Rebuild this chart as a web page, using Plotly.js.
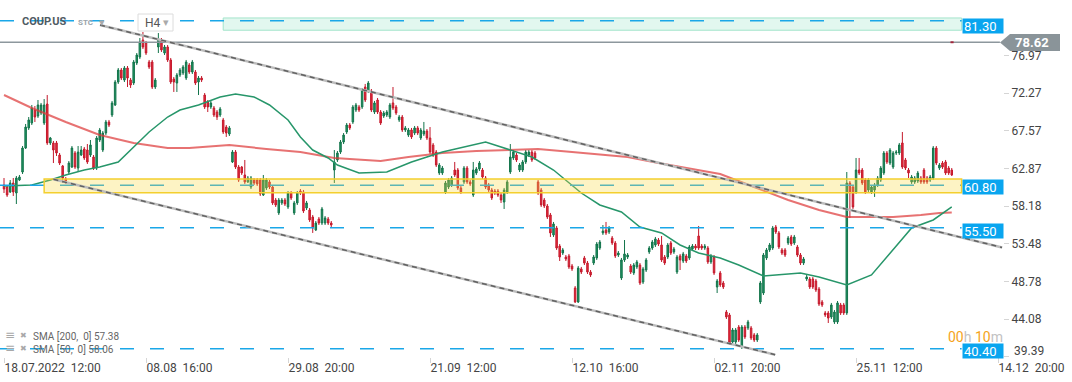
<!DOCTYPE html>
<html>
<head>
<meta charset="utf-8">
<script src="https://cdn.plot.ly/plotly-3.0.1.min.js"></script>
<style>
html,body{margin:0;padding:0;background:#fff;}
#chart{width:1072px;height:382px;}
</style>
</head>
<body>
<div id="chart"></div>
<script>
// ---------- DATA (H4 candles, COUP.US) ----------
const open = [
60.82,60.57,59.95,61.07,59.82,61.44,62.44,65.43,67.93,68.55,
70.17,69.42,69.80,68.55,70.92,66.06,66.06,66.06,64.56,63.19,
61.57,62.44,63.06,64.81,62.94,64.56,65.31,65.18,64.56,64.31,
62.94,66.43,65.18,67.30,68.68,69.55,70.80,73.66,75.16,73.91,
75.41,73.91,73.54,76.03,76.78,78.90,78.53,76.16,76.16,73.04,
78.03,78.90,77.28,78.03,76.41,74.04,73.54,74.54,74.79,74.16,
75.78,74.91,74.91,73.66,74.16,72.04,71.17,70.55,70.42,69.92,
69.55,68.93,68.05,67.18,63.69,64.93,63.06,63.06,62.07,61.20,
60.57,61.44,61.44,61.44,59.57,60.45,61.20,60.57,58.95,57.33,
58.58,58.95,58.08,59.82,57.33,58.58,60.07,59.95,57.95,57.70,
56.83,55.21,56.58,56.08,56.08,56.58,56.08,62.69,63.94,64.93,
66.18,67.43,68.30,68.68,70.17,70.55,70.55,73.04,72.54,72.54,
69.92,71.42,69.92,69.42,69.55,69.30,71.05,70.55,68.93,69.30,
67.68,67.05,67.68,67.30,67.93,66.68,67.18,67.55,66.68,65.81,
64.93,62.32,62.32,59.95,60.57,60.82,62.69,62.69,60.45,61.20,
62.94,61.20,59.57,62.32,62.82,62.69,61.69,60.82,60.20,60.07,
60.07,59.57,58.70,59.95,62.44,64.19,64.56,62.69,62.69,63.69,
64.56,64.93,64.81,61.20,60.20,58.95,58.20,57.08,54.59,55.46,
53.21,52.34,51.84,51.97,50.72,47.98,46.23,50.35,51.72,51.09,
49.97,51.09,51.72,52.96,54.84,55.21,54.96,54.21,53.59,52.09,
49.22,51.47,51.84,50.72,49.85,50.60,50.84,48.72,50.22,52.47,
52.96,53.34,53.96,53.34,51.84,51.84,53.59,52.47,49.97,51.97,
51.34,51.97,51.72,52.84,53.21,54.46,53.21,52.96,52.96,51.22,
51.84,48.10,49.85,48.60,44.98,44.61,41.24,41.24,43.11,40.62,
43.11,42.99,42.99,42.12,41.49,46.23,47.35,51.72,52.72,52.96,
55.58,54.84,52.72,52.72,53.59,54.34,53.59,53.09,52.09,51.09,
49.10,49.10,49.10,48.85,47.85,46.23,44.86,44.86,44.36,43.74,
43.74,45.86,45.86,44.86,61.07,60.57,59.95,62.69,62.69,61.44,
60.20,59.95,60.20,60.82,61.44,62.32,64.81,63.56,63.06,64.81,
64.81,66.06,63.94,62.69,61.20,61.20,61.32,61.69,62.69,61.69,
61.44,61.69,65.43,62.94,63.56,63.69,62.94,62.69];
const high = [
61.69,60.82,61.44,61.69,61.94,62.07,65.68,68.43,69.30,70.80,
70.67,71.42,71.05,71.54,72.04,66.81,66.31,66.31,64.81,63.31,
61.82,63.81,65.68,65.06,65.68,65.68,65.56,65.93,66.43,64.56,
66.93,67.93,67.55,68.93,68.93,71.30,73.91,75.41,75.41,75.66,
75.66,74.16,76.41,77.28,79.15,79.90,78.78,76.41,76.41,74.16,
79.77,79.15,78.28,78.28,76.66,74.29,74.79,75.41,75.78,76.41,
76.03,76.41,75.16,74.41,74.41,72.29,71.42,71.30,70.67,70.17,
70.55,69.18,68.30,68.18,65.18,65.18,63.31,63.19,63.94,61.94,
61.94,61.69,61.69,61.69,62.07,61.69,61.44,60.82,59.20,59.20,
59.20,59.20,60.07,60.07,58.83,60.07,60.32,60.20,58.83,57.95,
57.08,56.33,56.83,58.08,56.95,56.83,56.33,65.18,65.06,66.43,
67.30,68.55,68.55,70.80,71.05,70.80,72.92,73.42,73.79,72.79,
71.30,71.67,70.17,70.05,70.17,71.05,73.04,70.80,69.55,69.55,
68.18,67.93,67.93,68.18,68.18,67.93,68.68,67.80,68.05,66.06,
65.18,63.56,63.19,61.32,61.69,61.94,63.69,62.94,60.70,63.19,
63.19,61.44,63.69,63.06,63.81,62.94,61.94,61.07,60.45,60.32,
60.32,59.82,60.45,61.44,65.93,65.18,64.81,63.56,63.94,65.18,
65.18,65.18,65.06,61.44,60.45,59.20,58.45,57.33,56.21,55.71,
53.46,52.96,52.09,52.22,50.97,48.22,50.72,50.60,51.97,51.34,
50.22,52.09,53.71,53.96,55.83,56.21,55.71,54.46,53.84,52.59,
51.72,53.96,52.34,50.97,51.09,51.47,51.09,50.60,51.72,53.21,
53.96,54.34,54.21,54.46,52.09,53.59,53.84,53.09,52.09,52.22,
52.47,52.22,53.34,53.46,53.46,55.71,53.46,53.46,53.21,52.22,
52.09,49.10,50.10,48.85,45.23,44.86,42.99,42.99,43.36,43.36,
43.36,43.99,43.24,42.36,42.36,48.85,52.34,52.96,53.59,55.71,
55.83,55.08,52.96,52.96,54.46,54.59,54.59,53.34,52.34,51.84,
49.60,49.35,49.35,49.10,48.10,46.48,45.11,45.11,46.11,45.23,
46.35,46.11,46.11,62.44,61.32,60.82,64.19,64.19,62.94,61.69,
61.69,60.82,61.07,61.94,63.19,65.06,65.06,65.43,65.06,65.18,
66.06,67.43,64.19,62.94,62.07,61.94,62.57,61.94,62.94,61.94,
62.07,65.68,65.68,63.56,63.81,63.94,63.19,62.94];
const low = [
59.82,59.33,59.82,59.45,58.45,61.32,62.19,65.31,67.68,68.30,
68.68,69.18,69.55,68.30,65.81,65.81,63.56,64.44,63.31,61.07,
60.95,62.19,62.94,62.82,62.44,64.44,63.94,63.44,64.31,62.69,
62.69,66.18,64.93,67.05,68.05,69.30,70.67,73.42,73.91,73.66,
73.04,72.92,73.29,75.78,76.53,77.78,77.03,75.29,72.79,72.79,
77.28,77.41,77.03,76.16,73.42,72.42,72.42,74.29,74.54,73.91,
74.66,74.66,73.29,72.04,73.66,70.30,69.92,70.30,69.30,68.93,
69.30,67.18,66.81,66.93,63.56,62.82,61.20,62.07,60.95,61.07,
60.32,60.82,60.70,59.45,59.45,60.20,60.32,58.33,58.08,57.08,
58.33,58.20,57.83,58.95,57.08,58.33,59.57,57.33,57.70,56.21,
54.84,55.08,55.83,55.83,55.83,55.83,55.46,61.07,63.69,64.69,
65.93,67.18,67.68,68.43,69.92,69.92,70.30,71.17,72.29,69.92,
69.67,69.67,68.30,69.18,69.30,69.05,70.17,69.55,68.68,67.43,
67.43,66.81,66.56,67.05,67.05,66.43,66.93,66.43,64.69,64.31,
63.06,62.07,62.07,59.70,60.32,60.57,61.82,60.20,59.70,60.95,
60.95,60.70,59.33,62.07,62.57,61.57,60.32,59.95,58.95,59.57,
59.33,58.58,57.83,59.70,62.19,63.94,63.69,62.44,62.44,63.44,
64.31,63.69,63.94,59.57,58.08,57.95,56.58,54.34,54.34,52.72,
51.34,52.09,51.34,50.35,50.10,46.11,46.11,49.72,50.84,49.72,
49.35,50.84,51.47,52.72,54.59,54.59,54.71,53.34,51.72,51.84,
48.97,51.22,51.59,49.72,49.60,50.35,48.35,48.47,49.97,52.22,
52.72,53.09,53.21,51.22,50.84,51.59,52.09,52.22,49.72,50.22,
51.09,51.09,51.47,52.59,52.72,52.72,52.72,52.72,50.97,50.97,
49.60,47.35,48.10,47.85,44.11,40.87,40.99,40.99,41.24,40.37,
41.62,42.74,41.49,41.24,41.24,45.98,47.10,51.47,52.47,52.72,
54.71,52.84,52.09,51.84,53.34,53.21,53.34,51.84,50.84,50.84,
48.85,47.85,47.85,47.48,45.73,45.61,44.36,43.61,44.11,43.49,
43.49,44.61,44.61,44.61,56.71,57.83,59.70,62.07,60.82,59.70,
59.95,59.70,59.33,60.57,61.20,62.07,63.44,63.31,62.82,64.56,
64.56,62.82,62.69,61.69,60.95,60.95,61.07,60.95,60.95,60.95,
61.20,61.44,63.31,62.69,62.82,62.07,62.07,61.94];
const close = [
60.32,59.57,61.07,59.95,61.69,61.82,65.43,68.05,68.93,70.42,
69.30,70.80,70.80,70.80,66.06,66.68,65.18,64.81,63.56,61.69,
61.32,63.56,65.43,63.06,64.93,65.18,64.19,63.69,65.81,62.94,
66.68,67.68,67.30,68.68,68.30,71.05,73.66,75.16,74.16,75.41,
74.16,73.29,76.16,77.03,78.65,78.03,77.28,75.54,73.04,73.91,
78.90,77.66,78.03,76.41,73.66,73.66,74.54,75.16,75.54,76.16,
74.91,76.16,73.54,74.16,73.91,70.55,70.55,71.05,69.55,69.30,
70.30,67.43,67.30,67.93,64.93,63.06,61.44,62.32,61.20,61.69,
61.69,61.07,60.95,59.70,61.44,61.44,60.57,58.58,58.33,58.95,
58.95,58.45,59.82,59.20,58.58,59.82,59.82,57.58,58.58,56.46,
55.46,56.08,56.08,57.83,56.71,56.08,55.83,63.69,64.81,66.18,
67.05,68.30,67.93,70.55,70.80,70.17,72.67,71.42,73.54,70.17,
71.05,69.92,68.55,69.80,69.92,70.80,70.42,69.80,69.30,67.68,
67.93,67.68,66.81,67.93,67.30,67.68,67.55,66.68,64.93,64.56,
63.31,63.31,62.94,61.07,61.44,61.69,62.07,60.45,59.95,62.94,
61.20,60.95,62.69,62.82,63.56,61.82,60.57,60.20,59.20,59.82,
59.57,58.95,60.20,61.20,64.31,64.93,63.94,63.31,63.69,64.93,
64.93,63.94,64.19,59.82,58.33,58.20,56.83,54.84,55.96,52.96,
51.84,52.72,51.59,50.60,50.35,46.23,50.47,49.97,51.09,49.97,
49.60,51.84,53.46,53.71,55.08,54.84,55.46,53.59,51.97,52.34,
51.47,52.22,52.09,49.97,50.84,51.22,48.60,50.35,51.47,52.96,
53.71,54.09,53.46,51.47,51.09,53.34,52.34,52.84,51.84,51.47,
52.22,51.34,53.09,53.21,52.96,52.96,52.96,53.21,51.22,51.97,
49.85,48.85,48.35,48.10,44.36,41.12,42.74,42.74,41.49,43.11,
41.87,43.74,41.74,41.49,42.12,48.60,52.09,52.72,53.34,55.46,
54.96,53.09,52.34,52.09,54.21,53.46,54.34,52.09,51.09,51.59,
49.35,48.10,48.10,47.73,45.98,45.86,44.61,44.23,45.86,44.98,
46.11,44.86,44.86,61.07,59.82,58.08,62.69,62.32,61.07,59.95,
61.44,60.57,60.82,61.69,62.94,64.81,63.69,65.18,64.81,64.93,
65.81,63.06,62.94,62.32,61.82,61.69,62.32,61.20,61.20,61.20,
61.82,65.43,63.56,63.31,63.06,62.32,62.32,62.07];

// SMA 200 (bar index, value)
const sma200Bar = [0,9,20,31,42,53,60,73,85,96,107,115,122,131,142,153,164,173,184,202,212,223,232,243,254,264,273,280,288,297,303,307];
const sma200 = [72.04,70.42,68.68,67.05,66.06,65.43,65.43,65.81,65.31,64.93,64.19,63.94,63.81,64.31,64.81,65.06,65.18,65.31,64.93,64.31,63.56,62.82,62.19,60.57,58.95,57.70,56.83,56.83,56.83,57.08,57.33,57.38];
// SMA 50
const sma50Bar = [0,9,15,20,26,31,37,42,47,53,57,63,70,75,81,86,92,96,100,105,108,115,124,132,142,156,162,171,178,187,193,200,206,213,219,225,232,238,246,258,264,273,281,288,294,301,307];
const sma50 = [60.70,60.82,61.44,62.07,62.69,63.06,63.69,65.56,67.43,69.30,70.17,70.80,71.79,72.17,71.79,70.80,68.93,66.81,65.18,64.19,63.31,62.32,62.44,63.69,64.93,66.18,65.43,64.31,62.69,59.82,58.33,57.45,55.58,54.84,53.34,52.34,51.72,50.84,49.47,49.85,49.35,48.35,49.60,52.72,55.46,56.46,58.08];

// Axis ticks
const xTickBars = [0,46,92,138,184,230,276,322];
const xTickLabels = ["18.07.2022\u00a0\u00a012:00","08.08\u00a0\u00a016:00","29.08\u00a0\u00a020:00","21.09\u00a0\u00a012:00","12.10\u00a0\u00a016:00","02.11\u00a0\u00a020:00","25.11\u00a0\u00a012:00","14.12\u00a0\u00a020:00"];
const yTicks = [39.39,44.08,48.78,53.48,58.18,62.87,67.57,72.27,76.97];

// Levels / zones / trendlines
const levels = [81.30, 60.80, 55.50, 40.40];
const levelBoxTop = [81.65, 61.57, 56.08, 41.12];
const lastPrice = 78.62;
const greenZone = {x0: 71, x1: 310.2, y0: 80.12, y1: 81.65};
const yellowZone = {x0: 13, x1: 310.2, y0: 59.85, y1: 61.57};
const upperTrend = {x0: 31.1, y0: 80.77, x1: 323.3, y1: 53.03};
const lowerTrend = {x0: 16.0, y0: 61.53, x1: 249.8, y1: 39.66};
const smaLast = {s200: 57.38, s50: 58.06};

// ---------- CHART ----------
const bars = open.map((_, i) => i);
const XL = -1.3, XR = 323.6;

const traces = [
  {
    type: 'candlestick', x: bars, open: open, high: high, low: low, close: close,
    increasing: {line: {color: '#13744b', width: 1}, fillcolor: '#1f9463'},
    decreasing: {line: {color: '#c41a2c', width: 1}, fillcolor: '#e52a3c'},
    whiskerwidth: 0, hoverinfo: 'skip'
  },
  {type: 'scatter', mode: 'lines', x: sma200Bar, y: sma200, line: {color: 'rgba(222,60,60,0.72)', width: 2}, hoverinfo: 'skip'},
  {type: 'scatter', mode: 'lines', x: sma50Bar, y: sma50, line: {color: '#27966a', width: 1.5}, hoverinfo: 'skip'}
];

const PW = 1003, PH = 357;
const px = v => v / PW;
const py = v => 1 - v / PH;

const shapes = [];
shapes.push({type: 'rect', xref: 'x', yref: 'y', x0: greenZone.x0, x1: greenZone.x1, y0: greenZone.y0, y1: greenZone.y1,
  fillcolor: '#e2f7ef', line: {color: '#a3e4cb', width: 1}, layer: 'below'});
levels.forEach(v => shapes.push({type: 'line', xref: 'x', yref: 'y', x0: XL, x1: 310.2, y0: v, y1: v,
  line: {color: '#1aa7e8', width: 1.5, dash: '14px,16px'}, layer: 'above'}));
shapes.push({type: 'rect', xref: 'x', yref: 'y', x0: yellowZone.x0, x1: yellowZone.x1, y0: yellowZone.y0, y1: yellowZone.y1,
  fillcolor: 'rgba(248,214,60,0.30)', line: {color: '#f4cf2e', width: 1.5}, layer: 'above'});
shapes.push({type: 'line', xref: 'x', yref: 'y', x0: XL, x1: 322.6, y0: lastPrice, y1: lastPrice,
  line: {color: '#8d979d', width: 1.5}, layer: 'above'});
[upperTrend, lowerTrend].forEach(t => {
  shapes.push({type: 'line', xref: 'x', yref: 'y', x0: t.x0, y0: t.y0, x1: t.x1, y1: t.y1, line: {color: '#bdbdbd', width: 2.5}, layer: 'above'});
  shapes.push({type: 'line', xref: 'x', yref: 'y', x0: t.x0, y0: t.y0, x1: t.x1, y1: t.y1, line: {color: '#616161', width: 1.5, dash: '5px,4px'}, layer: 'above'});
});
shapes.push({type: 'rect', xref: 'x', yref: 'y', x0: 306.6, x1: 307.6, y0: lastPrice - 0.12, y1: lastPrice + 0.12,
  fillcolor: '#a3253a', line: {width: 0}, layer: 'above'});
// H4 box
shapes.push({type: 'rect', xref: 'paper', yref: 'paper', x0: px(138), x1: px(173), y0: py(31), y1: py(14),
  fillcolor: '#ffffff', line: {color: '#dcdcdc', width: 1}, layer: 'above'});
// last price tag
shapes.push({type: 'path', xref: 'paper', yref: 'paper',
  path: `M ${px(1000)} ${py(42.5)} L ${px(1010)} ${py(34)} L ${px(1060)} ${py(34)} L ${px(1060)} ${py(51)} L ${px(1010)} ${py(51)} Z`,
  fillcolor: '#8a9499', line: {width: 0}, layer: 'above'});

const annotations = [];
levels.forEach((v, k) => annotations.push({xref: 'x', yref: 'y', x: 310.3, y: levelBoxTop[k], xanchor: 'left', yanchor: 'top',
  text: v.toFixed(2), showarrow: false, bgcolor: '#09a5ef', font: {color: '#ffffff', size: 13, family: 'Roboto'},
  width: 38, height: 12, align: 'left', borderpad: 1}));
annotations.push({xref: 'paper', yref: 'paper', x: px(1013), y: py(42.5), xanchor: 'left', yanchor: 'middle',
  text: lastPrice.toFixed(2), showarrow: false, font: {color: '#ffffff', size: 13, family: 'Roboto', weight: 'bold'}});
// bottom y label sits just above the x-axis labels, as in the original
annotations.push({xref: 'paper', yref: 'paper', x: px(1012), y: py(351), xanchor: 'left', yanchor: 'middle',
  text: yTicks[0].toFixed(2), showarrow: false, font: {color: '#444444', size: 12, family: 'Roboto'}});
annotations.push({xref: 'paper', yref: 'paper', x: px(946), y: py(337), xanchor: 'left', yanchor: 'middle', showarrow: false,
  text: '<span style="color:#f5a31a">00</span><span style="color:#c2c2c2">h</span> <span style="color:#f5a31a">10</span><span style="color:#c2c2c2">m</span>',
  font: {size: 14, family: 'Roboto'}});
annotations.push({xref: 'paper', yref: 'paper', x: px(20), y: py(21), xanchor: 'left', yanchor: 'middle', showarrow: false,
  text: '<b>COUP.US</b>', font: {size: 11, color: '#4f5b63', family: 'Roboto'}});
annotations.push({xref: 'paper', yref: 'paper', x: px(76), y: py(23), xanchor: 'left', yanchor: 'middle', showarrow: false,
  text: '<b>STC</b>', font: {size: 8, color: '#9aa4ab', family: 'Roboto'}});
annotations.push({xref: 'paper', yref: 'paper', x: px(102), y: py(22), xanchor: 'center', yanchor: 'middle', showarrow: false,
  text: '▾', font: {size: 11, color: '#aaaaaa', family: 'DejaVu Sans'}});
annotations.push({xref: 'paper', yref: 'paper', x: px(143), y: py(22.5), xanchor: 'left', yanchor: 'middle', showarrow: false,
  text: 'H4', font: {size: 12, color: '#555555', family: 'Roboto'}});
annotations.push({xref: 'paper', yref: 'paper', x: px(165.5), y: py(22.5), xanchor: 'center', yanchor: 'middle', showarrow: false,
  text: '▾', font: {size: 11, color: '#aaaaaa', family: 'DejaVu Sans'}});
[[336, 'SMA [200,\u00a0 0] ' + smaLast.s200.toFixed(2)], [349, 'SMA [50,\u00a0 0] ' + smaLast.s50.toFixed(2)]].forEach(([yy, t]) => {
  annotations.push({xref: 'paper', yref: 'paper', x: px(10), y: py(yy - 1), xanchor: 'center', yanchor: 'middle', showarrow: false,
    text: '≡', font: {size: 12, color: '#a8a8a8', family: 'DejaVu Sans'}});
  annotations.push({xref: 'paper', yref: 'paper', x: px(23), y: py(yy - 1), xanchor: 'center', yanchor: 'middle', showarrow: false,
    text: '✖', font: {size: 8, color: '#a8a8a8', family: 'DejaVu Sans'}});
  annotations.push({xref: 'paper', yref: 'paper', x: px(31), y: py(yy), xanchor: 'left', yanchor: 'middle', showarrow: false,
    text: t, font: {size: 10, color: '#666666', family: 'Roboto'}});
});

const layout = {
  width: 1072, height: 382,
  margin: {l: 0, r: 69, t: 0, b: 25, pad: 0},
  paper_bgcolor: '#ffffff', plot_bgcolor: '#ffffff',
  font: {family: 'Roboto, sans-serif', size: 12, color: '#444'},
  showlegend: false,
  xaxis: {
    type: 'linear', range: [XL, XR], showgrid: false, zeroline: false, showline: false,
    tickmode: 'array', tickvals: xTickBars, ticktext: xTickLabels,
    ticks: 'outside', ticklen: 5, tickcolor: '#d5d5d5', ticklabelposition: 'outside right',
    tickfont: {size: 12, color: '#444444'}, rangeslider: {visible: false}, fixedrange: true
  },
  yaxis: {
    range: [39.37, 83.89], side: 'right', showgrid: false, zeroline: false, showline: false,
    tickmode: 'array', tickvals: yTicks, ticktext: yTicks.map((v, k) => k === 0 ? '' : v.toFixed(2)),
    ticks: 'outside', ticklen: 5, tickcolor: '#d5d5d5', tickfont: {size: 12, color: '#444444'}, fixedrange: true
  },
  shapes: shapes,
  annotations: annotations
};

Plotly.newPlot('chart', traces, layout, {displayModeBar: false, staticPlot: true});
</script>
</body>
</html>
